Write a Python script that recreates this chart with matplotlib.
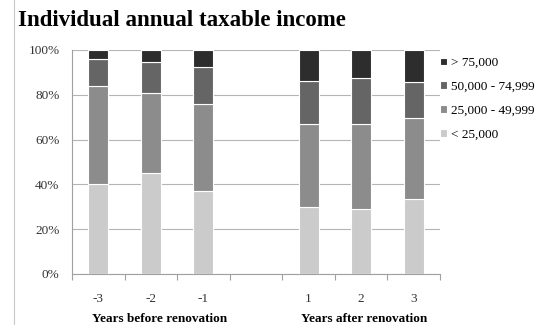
import matplotlib
matplotlib.use("Agg")
import matplotlib.pyplot as plt
from matplotlib.lines import Line2D
import numpy as np

# Year labels and stacked shares (%) per income band
years = ["-3", "-2", "-1", "1", "2", "3"]
slots = [0, 1, 2, 4, 5, 6]
below_25k = [40, 45, 37, 30, 29, 33.5]
band_25_50k = [44, 36, 39, 37, 38, 36]
band_50_75k = [12, 13.5, 16.5, 19, 20.5, 16]
above_75k = [4, 5.5, 7.5, 14, 12.5, 14.5]

series = [
    ("< 25,000", below_25k, "#cbcbcb"),
    ("25,000 - 49,999", band_25_50k, "#8c8c8c"),
    ("50,000 - 74,999", band_50_75k, "#656565"),
    ("> 75,000", above_75k, "#2d2d2d"),
]

serif = ["Liberation Serif", "DejaVu Serif"]

fig = plt.figure(figsize=(5.39, 3.25), dpi=100)
ax = fig.add_axes([72 / 539, 1 - 274 / 325, 368 / 539, 224 / 325])

bottom = np.zeros(len(years))
handles = []
for label, vals, color in series:
    vals = np.array(vals, dtype=float)
    b = ax.bar(slots, vals, bottom=bottom, width=0.38, color=color,
               edgecolor="white", linewidth=0.8, label=label, zorder=3)
    handles.append(b)
    bottom += vals

ax.set_xlim(-0.5, 6.5)
ax.set_ylim(0, 100)
ax.set_yticks(np.arange(0, 101, 20))
ax.set_yticklabels([f"{v}%" for v in range(0, 101, 20)], fontfamily=serif,
                   fontsize=9.5, color="#333333")
ax.yaxis.grid(True, color="#b5b5b5", linewidth=0.8, zorder=0)
ax.tick_params(axis="y", length=0, pad=9)

ax.set_xticks(slots)
ax.set_xticklabels(years, fontfamily=serif, fontsize=9.5, color="#333333")
ax.set_xticks(np.arange(-0.5, 6.6, 1), minor=True)
ax.tick_params(axis="x", which="major", length=0, pad=14)
ax.tick_params(axis="x", which="minor", length=4, color="#a0a0a0", width=0.8)

for side in ["top", "right"]:
    ax.spines[side].set_visible(False)
ax.spines["left"].set_color("#a0a0a0")
ax.spines["bottom"].set_color("#a0a0a0")
ax.spines["left"].set_linewidth(0.8)
ax.spines["bottom"].set_linewidth(0.8)

# group labels under the year ticks
ax.text(1.17, -0.2, "Years before renovation", transform=ax.get_xaxis_transform(),
        ha="center", va="center", fontfamily=serif, fontweight="bold", fontsize=9.5)
ax.text(5.05, -0.2, "Years after renovation", transform=ax.get_xaxis_transform(),
        ha="center", va="center", fontfamily=serif, fontweight="bold", fontsize=9.5)

fig.text(18 / 539, 1 - 21 / 325, "Individual annual taxable income",
         ha="left", va="center", fontfamily=serif, fontweight="bold", fontsize=16.5)

# thin vertical rule on the left edge
fig.add_artist(Line2D([14 / 539, 14 / 539], [0, 1], transform=fig.transFigure,
                      color="#c8c8c8", linewidth=0.8))

leg = ax.legend(handles[::-1], [s[0] for s in series][::-1],
                loc="upper left", bbox_to_anchor=(0.975, 1.01), frameon=False,
                prop={"family": serif, "size": 9.5}, handlelength=0.5,
                handleheight=0.5, handletextpad=0.35, labelspacing=0.9,
                borderaxespad=0.3)

fig.savefig("out.png", dpi=100)
